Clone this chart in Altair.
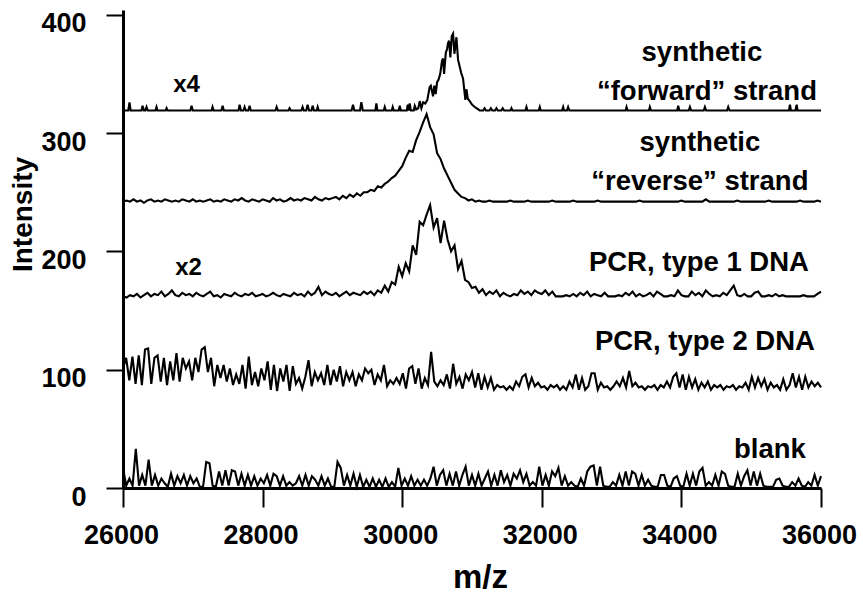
import altair as alt
import pandas as pd

MZ_RANGE = [26000, 36000]
Y_RANGE = [0, 404]
X_TICKS = [26000, 28000, 30000, 32000, 34000, 36000]
Y_TICKS = [0, 100, 200, 300, 400]
FONT = "Liberation Sans"

# ---- synthetic "forward" strand (x4), read point by point ----
fwd_mz = [26000,
          26075, 26093, 26110, 26265, 26280, 26300, 26320, 26337, 26355,
          26465, 26480, 26495, 26610, 26624, 26640, 26965, 26982, 27000,
          27270, 27283, 27300, 27410, 27427, 27445, 27655, 27670, 27690,
          27725, 27742, 27760, 27795, 27814, 27830, 28185, 28201, 28220,
          28370, 28387, 28405, 28555, 28573, 28590, 28625, 28645, 28665,
          28700, 28717, 28735, 28775, 28789, 28805, 29275, 29295, 29315,
          29395, 29415, 29435, 29615, 29630, 29645, 29735, 29750, 29765,
          29850, 29864, 29880, 29950, 29965, 29980, 30065, 30079, 30095,
          30107, 30125, 30165, 30180, 30200, 30230, 30251, 30275, 30300, 30330,
          30360, 30394, 30410, 30442, 30460, 30480, 30500, 30520, 30545, 30570,
          30585, 30600, 30625, 30643, 30657, 30671, 30690, 30710, 30729, 30748,
          30765, 30777, 30800, 30824, 30845, 30872, 30890, 30905, 30920, 30940,
          30968, 31000, 31039, 31063, 31090, 31111,
          31160, 31180, 31200, 31250, 31270, 31290, 31330, 31350, 31370,
          31420, 31440, 31460, 31550, 31565, 31580, 31765, 31780, 31795,
          31955, 31971, 31985, 32290, 32306, 32320, 32360, 32377, 32395,
          33200, 33214, 33230, 33535, 33548, 33565, 33940, 33954, 33970,
          34105, 34122, 34140, 34320, 34337, 34355, 34655, 34671, 34690,
          35540, 35555, 35570, 35635, 35651, 35665,
          36000]
fwd_int = [319,
           319, 326, 319, 319, 323, 319, 319, 322, 319,
           319, 322, 319, 319, 321, 319, 319, 323, 319,
           319, 322, 319, 319, 323, 319, 319, 324, 319,
           319, 322, 319, 319, 323, 319, 319, 322, 319,
           319, 321, 319, 319, 322, 319, 319, 324, 319,
           319, 323, 319, 319, 322, 319, 319, 324, 319,
           319, 326, 319, 319, 325, 319, 319, 322, 319,
           319, 322, 319, 319, 323, 319, 319, 324, 319,
           325, 319, 319, 323, 320, 321, 327, 321, 326, 325,
           328, 339, 340, 331, 340, 333, 343, 345, 350, 361,
           363, 350, 368, 371, 376, 378, 364, 382, 384, 367,
           375, 381, 362, 356, 351, 346, 336, 328, 337, 329,
           327, 324, 322, 321, 320, 319,
           319, 321, 319, 319, 321, 319, 319, 321, 319,
           319, 321, 319, 319, 321, 319, 319, 322, 319,
           319, 322, 319, 319, 322, 319, 319, 322, 319,
           319, 322, 319, 319, 322, 319, 319, 323, 319,
           319, 322, 319, 319, 322, 319, 319, 322, 319,
           319, 324, 319, 319, 324, 319,
           319]

# ---- synthetic "reverse" strand, sampled every 50 m/z from 26000 ----
rev_int = [242, 243, 242, 244, 242, 243, 241, 243, 244, 242,
           243, 242, 244, 243, 242, 243, 242, 244, 243, 242,
           244, 242, 243, 242, 243, 244, 242, 243, 242, 244,
           243, 242, 244, 243, 245, 243, 242, 244, 243, 242,
           244, 243, 242, 245, 243, 244, 242, 243, 245, 243,
           244, 243, 245, 244, 243, 246, 244, 243, 245, 244,
           245, 246, 244, 247, 245, 248, 246, 249, 247, 250,
           250, 252, 251, 255, 254, 257, 259, 262, 264, 268,
           272, 279, 285, 284, 294, 301, 309, 316, 305, 299,
           283, 278, 270, 264, 258, 252, 249, 246, 245, 243,
           244, 242, 243, 242, 242, 243, 242, 242, 242, 242,
           242, 243, 242, 242, 242, 242, 243, 242, 242, 242,
           242, 242, 242, 243, 242, 242, 242, 242, 242, 243,
           242, 242, 242, 242, 242, 242, 243, 242, 242, 242,
           242, 242, 242, 242, 242, 242, 242, 242, 243, 242,
           242, 242, 242, 242, 242, 242, 242, 242, 242, 242,
           243, 242, 242, 242, 242, 242, 242, 244, 242, 242,
           242, 242, 242, 242, 242, 242, 243, 242, 242, 242,
           242, 242, 242, 242, 242, 243, 242, 242, 242, 242,
           242, 242, 242, 242, 243, 242, 242, 242, 242, 243,
           242]

# ---- PCR, type 1 DNA (x2), sampled every 50 m/z from 26000 ----
pcr1_int = [162, 161, 163, 162, 164, 161, 163, 165, 162, 164,
            163, 166, 162, 164, 167, 163, 162, 165, 163, 164,
            162, 165, 163, 162, 164, 166, 162, 163, 161, 164,
            163, 162, 165, 163, 162, 164, 163, 165, 162, 163,
            164, 162, 163, 165, 163, 162, 164, 163, 162, 165,
            163, 164, 162, 166, 163, 165, 170, 163, 166, 164,
            163, 165, 162, 164, 166, 163, 165, 164, 163, 166,
            164, 166, 163, 167, 165, 171, 166, 174, 172, 187,
            179, 190, 183, 205, 197, 225, 222, 231, 239, 220,
            228, 207, 226, 210, 200, 205, 185, 192, 176, 174,
            169, 170, 165, 168, 163, 166, 164, 167, 162, 165,
            163, 162, 164, 163, 167, 164, 166, 163, 167, 165,
            164, 167, 163, 166, 162, 162, 162, 163, 162, 164,
            162, 165, 163, 166, 162, 164, 163, 162, 165, 162,
            162, 162, 163, 162, 165, 163, 166, 162, 164, 162,
            163, 165, 162, 166, 164, 162, 162, 163, 162, 167,
            163, 162, 162, 166, 163, 165, 162, 167, 164, 162,
            163, 162, 165, 163, 167, 171, 163, 162, 164, 162,
            162, 165, 166, 162, 162, 163, 162, 164, 162, 163,
            162, 162, 162, 162, 162, 163, 162, 162, 162, 164,
            166]

# ---- PCR, type 2 DNA, evenly sampled 26000..36000 ----
pcr2_int = [101, 110, 91, 111, 88, 112, 87, 117, 118, 88,
            110, 112, 90, 110, 87, 107, 91, 114, 90, 110,
            101, 107, 91, 110, 98, 117, 119, 98, 110, 86,
            104, 93, 104, 90, 101, 87, 96, 88, 104, 84,
            111, 87, 98, 86, 101, 91, 107, 83, 104, 82,
            101, 90, 104, 82, 103, 88, 93, 84, 94, 108,
            86, 98, 91, 97, 87, 104, 87, 100, 90, 103,
            86, 98, 91, 98, 86, 96, 91, 101, 97, 100,
            87, 96, 91, 104, 86, 91, 88, 93, 88, 97,
            84, 101, 103, 88, 101, 84, 93, 87, 115, 90,
            86, 91, 87, 96, 84, 105, 88, 94, 84, 96,
            91, 98,
            85, 97, 83, 94, 85, 93, 83, 87, 85, 86,
            83, 86, 83, 90, 86, 94, 96, 85, 93, 86,
            89, 85, 86, 83, 87, 85, 87, 83, 86, 83,
            90, 85, 96, 83, 93, 83, 86, 97, 97, 83,
            89, 85, 86, 83, 86, 90, 86, 93, 85, 99,
            86, 89, 85, 86, 83, 86, 85, 87, 83, 87,
            85, 90, 85, 94, 97, 85, 96, 83, 94, 85,
            92, 83, 89, 85, 90, 83, 87, 85, 87, 83,
            86, 85, 87, 83, 86, 85, 89, 83, 94, 85,
            93, 86, 92, 83, 89, 85, 87, 83, 92, 83,
            87, 97, 85, 94, 83, 94, 85, 90, 86, 89,
            85]

# ---- blank, evenly sampled 26000..36000 ----
blank_int = [17, 2, 8, 2, 33, 2, 11, 2, 24, 2,
             11, 2, 8, 4, 1, 12, 2, 10, 4, 11,
             2, 10, 4, 8, 1, 1, 22, 21, 2, 1,
             14, 2, 15, 2, 15, 14, 2, 12, 2, 11,
             2, 10, 2, 8, 4, 11, 2, 12, 10, 2,
             10, 2, 5, 2, 4, 10, 2, 11, 2, 10,
             7, 2, 10, 2, 8, 1, 1, 22, 17, 2,
             11, 2, 12, 1, 11, 1, 7, 1, 8, 1,
             7, 1, 8, 1, 5, 1, 17, 2, 8, 2,
             10, 2, 7, 2, 7, 2, 8, 18, 2, 11,
             15, 2, 12, 2, 14, 2, 11, 18, 2, 11,
             2, 12, 2, 8,
             14, 2, 11, 2, 15, 5, 11, 2, 12, 8,
             15, 5, 12, 2, 5, 2, 18, 2, 11, 2,
             14, 10, 17, 2, 10, 2, 5, 2, 1, 8,
             2, 14, 18, 19, 2, 18, 2, 1, 1, 5,
             2, 11, 2, 14, 2, 14, 12, 2, 11, 2,
             7, 2, 1, 1, 11, 11, 2, 1, 8, 10,
             2, 1, 12, 2, 12, 2, 14, 17, 2, 5,
             2, 11, 2, 14, 12, 2, 1, 1, 12, 2,
             10, 15, 2, 14, 2, 12, 2, 1, 1, 1,
             7, 8, 2, 1, 1, 5, 2, 8, 2, 1,
             5, 2, 11, 2, 10]

# ---- annotations ----
label_text = ["synthetic", "\u201cforward\u201d strand", "synthetic",
              "\u201creverse\u201d strand", "PCR, type 1 DNA", "PCR, type 2 DNA", "blank"]
label_mz = [34294, 34366, 34265, 34265, 34251, 34337, 35268]
label_int = [361, 328, 285, 252, 183, 117, 25]
factor_text = ["x4", "x2"]
factor_mz = [26910, 26940]
factor_int = [335, 180]


def even_grid(n):
    step = (MZ_RANGE[1] - MZ_RANGE[0]) / (n - 1)
    return [MZ_RANGE[0] + step * i for i in range(n)]


traces = [
    ("forward", fwd_mz, fwd_int),
    ("reverse", even_grid(len(rev_int)), rev_int),
    ("pcr1", even_grid(len(pcr1_int)), pcr1_int),
    ("pcr2", even_grid(len(pcr2_int)), pcr2_int),
    ("blank", even_grid(len(blank_int)), blank_int),
]
rows = []
for name, xs, ys in traces:
    assert len(xs) == len(ys), name
    for k, (xv, yv) in enumerate(zip(xs, ys)):
        rows.append({"trace": name, "mz": xv, "intensity": yv, "k": k})
spectra = pd.DataFrame(rows)

labels = pd.DataFrame({"text": label_text, "mz": label_mz, "intensity": label_int})
factors = pd.DataFrame({"text": factor_text, "mz": factor_mz, "intensity": factor_int})

x_scale = alt.Scale(domain=MZ_RANGE, nice=False, zero=False)
y_scale = alt.Scale(domain=Y_RANGE, nice=False, zero=False)

x_axis = alt.Axis(values=X_TICKS, format="d", grid=False,
                  domainColor="black", domainWidth=3, tickColor="black", tickWidth=2,
                  tickSize=19, labelFont=FONT, labelFontSize=27, labelFontWeight="bold",
                  labelColor="black", labelPadding=15, labelFlush=False, labelOffset=-2,
                  title="m/z", titleFont=FONT, titleFontSize=33, titleFontWeight="bold",
                  titleColor="black", titleX=357, titleY=89, titleAlign="center",
                  titleBaseline="middle")
y_axis = alt.Axis(values=Y_TICKS, format="d", grid=False,
                  domainColor="black", domainWidth=3, tickColor="black", tickWidth=2,
                  tickSize=17, labelFont=FONT, labelFontSize=27, labelFontWeight="bold",
                  labelColor="black", labelPadding=20, labelOffset=9,
                  title="Intensity", titleFont=FONT, titleFontSize=28, titleFontWeight="bold",
                  titleColor="black", titleAngle=270, titleX=-100, titleY=204,
                  titleAlign="center", titleBaseline="middle")

lines = alt.Chart(spectra).mark_line(color="black", strokeWidth=2.1).encode(
    x=alt.X("mz:Q", scale=x_scale, axis=x_axis),
    y=alt.Y("intensity:Q", scale=y_scale, axis=y_axis),
    detail="trace:N",
    order="k:Q",
)

label_marks = alt.Chart(labels).mark_text(
    font=FONT, fontSize=27.5, fontWeight="bold", color="black",
    align="center", baseline="alphabetic"
).encode(x="mz:Q", y="intensity:Q", text="text:N")

factor_marks = alt.Chart(factors).mark_text(
    font=FONT, fontSize=24, fontWeight="bold", color="black",
    align="center", baseline="alphabetic"
).encode(x="mz:Q", y="intensity:Q", text="text:N")

chart = alt.layer(lines, label_marks, factor_marks).properties(
    width=698, height=478,
    padding={"left": 123, "top": 10, "right": 42, "bottom": 109},
    autosize=alt.AutoSizeParams(type="none"),
    background="white",
).configure_view(stroke=None)

chart.save("out.html", embed_options={"renderer": "svg", "actions": False})
